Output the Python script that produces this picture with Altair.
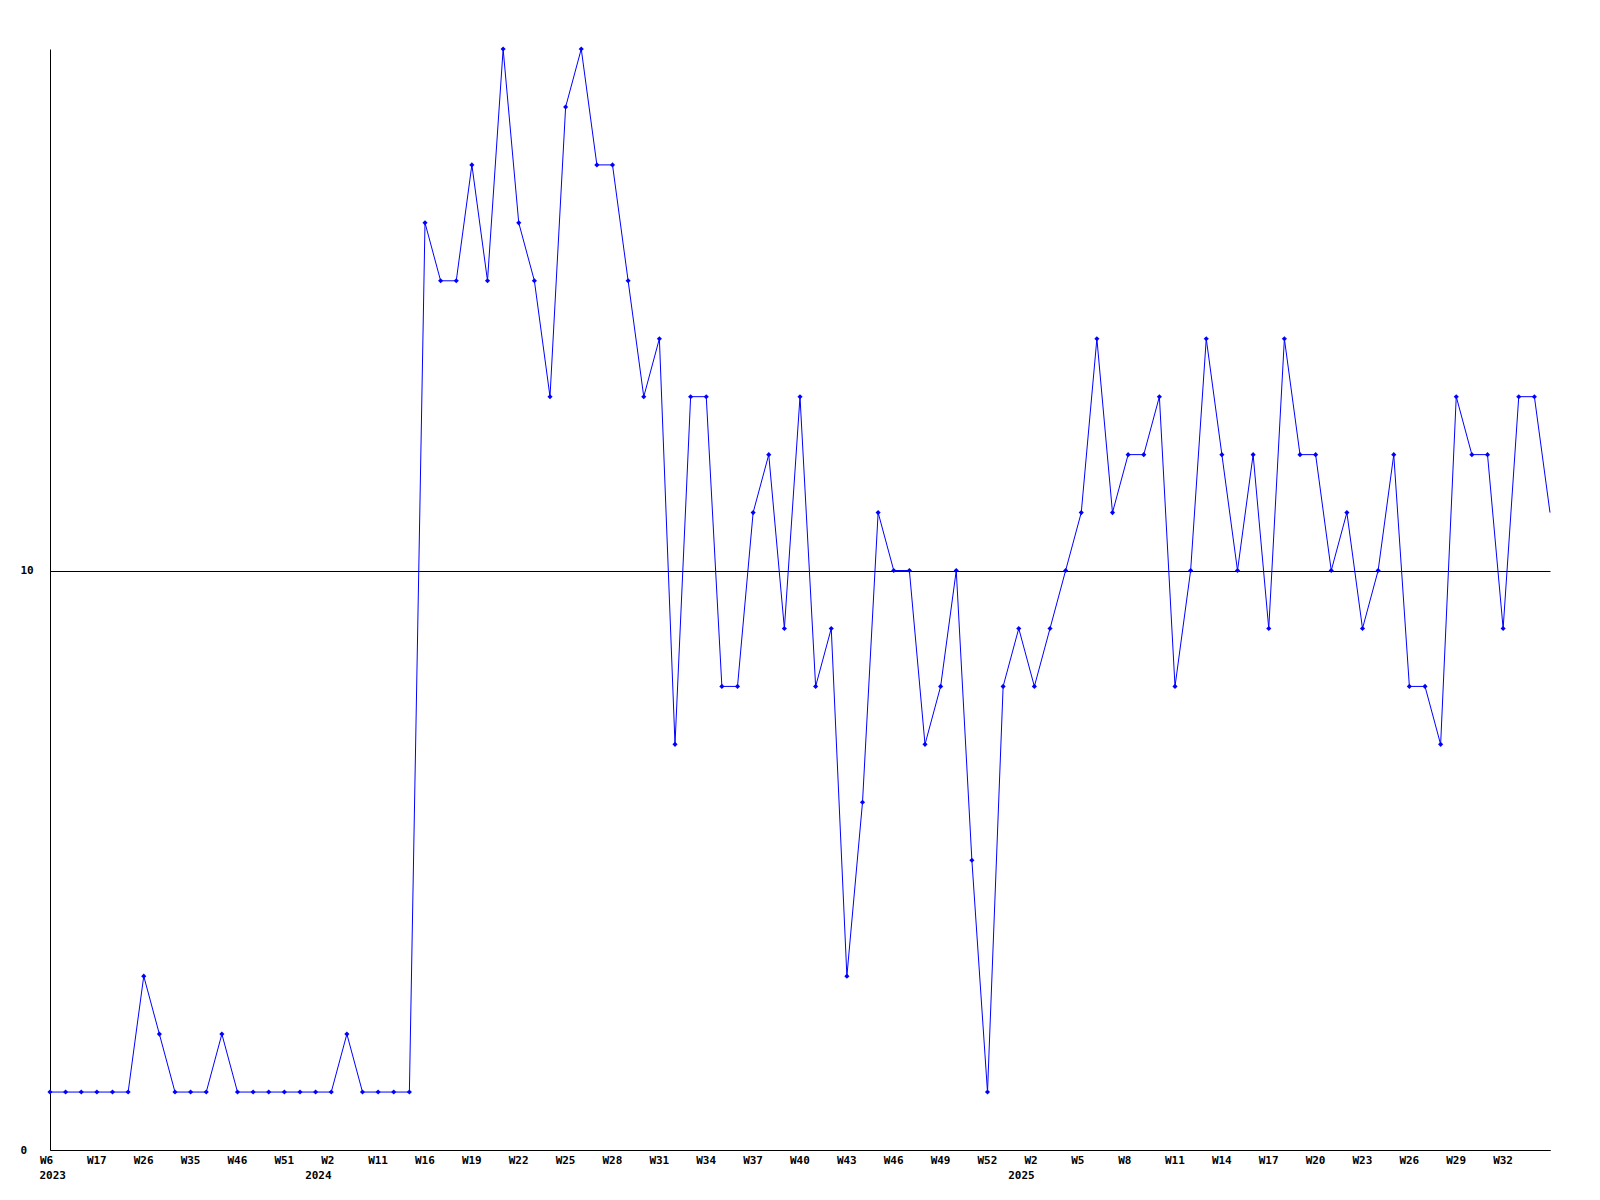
import altair as alt
import pandas as pd

# weekly values, one per point (index 0..96)
values = [1, 1, 1, 1, 1, 1, 3, 2, 1, 1, 1, 2, 1, 1, 1, 1, 1, 1, 1, 2, 1, 1, 1, 1,
          16, 15, 15, 17, 15, 19, 16, 15, 13, 18, 19, 17, 17, 15, 13, 14, 7, 13, 13, 8,
          8, 11, 12, 9, 13, 8, 9, 3, 6, 11, 10, 10, 7, 8, 10, 5, 1,
          8, 9, 8, 9, 10, 11, 14, 11, 12, 12, 13, 8, 10, 14, 12, 10, 12, 9, 14, 12,
          12, 10, 11, 9, 10, 12, 8, 8, 7, 13, 12, 12, 9, 13, 13, 11]

# week labels shown on every third point
tick_labels = ["W6", "W17", "W26", "W35", "W46", "W51", "W2", "W11", "W16", "W19",
               "W22", "W25", "W28", "W31", "W34", "W37", "W40", "W43", "W46", "W49",
               "W52", "W2", "W5", "W8", "W11", "W14", "W17", "W20", "W23", "W26",
               "W29", "W32"]
tick_step = 3

# year labels and the point index where each year starts
years = ["2023", "2024", "2025"]
year_idx = [0, 17, 62]

W = 1500
H = 1101
FONT = "DejaVu Sans Mono"

df = pd.DataFrame({"idx": list(range(len(values))), "value": values})
ydf = pd.DataFrame({"idx": year_idx, "year": years})

tick_values = [i * tick_step for i in range(len(tick_labels))]
label_arr = "[" + ",".join("'" + t + "'" for t in tick_labels) + "]"
label_expr = label_arr + "[round(datum.value / %d)]" % tick_step

x_scale = alt.Scale(domain=[0, len(values) - 1], nice=False, zero=False)
y_scale = alt.Scale(domain=[0, 19], nice=False)

x_axis = alt.Axis(values=tick_values, labelExpr=label_expr, ticks=False, tickSize=0,
                  grid=False, domainColor="black", domainWidth=1, title=None,
                  labelAlign="left", labelOffset=-10.5, labelPadding=4,
                  labelBaseline="top", labelFont=FONT, labelFontWeight="bold",
                  labelFontSize=11, labelColor="black", labelOverlap=False,
                  labelFlush=False, labelBound=False)
y_axis = alt.Axis(values=[0, 10], ticks=False, tickSize=0, grid=True, gridColor="black",
                  gridOpacity=1, gridWidth=1, domainColor="black", domainWidth=1,
                  title=None, labelAlign="left", labelPadding=30, labelBaseline="middle",
                  labelFont=FONT, labelFontWeight="bold", labelFontSize=11,
                  labelColor="black", labelFlush=False, labelOverlap=False)

base = alt.Chart(df).encode(
    x=alt.X("idx:Q", scale=x_scale, axis=x_axis),
    y=alt.Y("value:Q", scale=y_scale, axis=y_axis),
)

line = base.mark_line(color="#0000ff", strokeWidth=1)
pts = base.transform_filter(alt.datum.idx < len(values) - 1).mark_point(
    shape="diamond", filled=True, size=26, color="#0000ff", opacity=1)

year_text = alt.Chart(ydf).mark_text(
    align="left", baseline="top", dx=-10.5, font=FONT, fontWeight="bold",
    fontSize=11, color="black"
).encode(x=alt.X("idx:Q", scale=x_scale), y=alt.value(H + 20), text="year:N")

chart = alt.layer(line, pts, year_text).properties(
    width=W, height=H,
    autosize=alt.AutoSizeParams(type="none"),
    padding={"left": 42, "top": 41, "right": 40, "bottom": 40},
    background="white",
).configure_view(stroke=None)

chart.save("out.html", embed_options={"renderer": "svg", "actions": False})
